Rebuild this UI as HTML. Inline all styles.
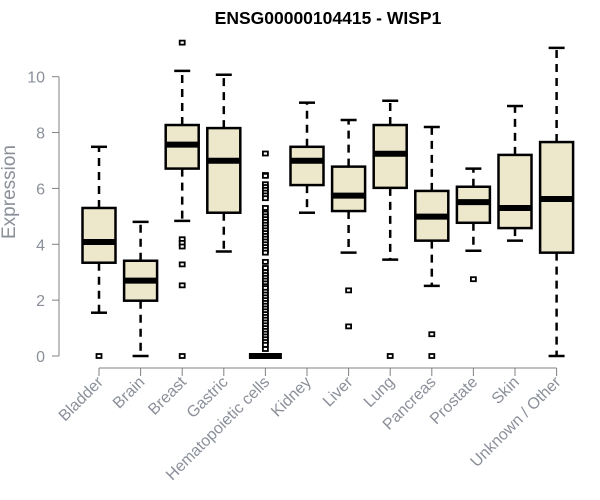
<!DOCTYPE html>
<html><head><meta charset="utf-8"><style>
html,body{margin:0;padding:0;background:#fff;width:600px;height:500px;overflow:hidden}
svg{display:block;font-family:"Liberation Sans",Arial,sans-serif}
</style></head><body>
<svg id="chart" width="600" height="500">
<text x="328" y="24" text-anchor="middle" font-weight="bold" font-size="17.5" fill="#000">ENSG00000104415 - WISP1</text>
<text transform="translate(15,192) rotate(-90)" text-anchor="middle" font-size="19" fill="#8a8f99">Expression</text>
<g id="plot"></g>
</svg>
<script>
const categories = ["Bladder","Brain","Breast","Gastric","Hematopoietic cells","Kidney","Liver","Lung","Pancreas","Prostate","Skin","Unknown / Other"];
const whiskerLow = [1.55,0,4.84,3.74,0,5.13,3.70,3.45,2.51,3.77,4.13,0];
const q1 = [3.34,1.98,6.71,5.13,0,6.12,5.19,6.02,4.13,4.77,4.58,3.70];
const medians = [4.08,2.70,7.57,6.99,0,6.99,5.74,7.24,4.99,5.51,5.30,5.62];
const q3 = [5.30,3.41,8.27,8.16,0,7.49,6.78,8.27,5.91,6.06,7.20,7.66];
const whiskerHigh = [7.49,4.80,10.21,10.07,0,9.07,8.45,9.14,8.20,6.71,8.95,11.03];
const outliers = [
 [0],
 [],
 [11.22,4.18,4.05,3.92,3.28,2.53,0],
 [],
 [7.25,6.48,6.45,6.15,6.05,5.95,5.85,5.75,5.65,5.3,5.1,5.0,4.9,4.8,4.7,4.6,4.5,4.4,4.3,4.2,4.1,4.0,3.9,3.8,3.7,3.37,3.15,3.0,2.9,2.8,2.7,2.6,2.5,2.43,2.3,2.2,2.1,2.0,1.9,1.8,1.7,1.6,1.5,1.4,1.3,1.2,1.1,1.0,0.9,0.8,0.7,0.6,0.5,0.4,0.25],
 [],
 [2.35,1.06],
 [0],
 [0.78,0],
 [2.75],
 [],
 []
];
const yTicks = [0,2,4,6,8,10];

const NS="http://www.w3.org/2000/svg";
const g=document.getElementById('plot');
function y(v){return 356 - v*27.93;}
function x(i){return 99 + i*41.6;}
function el(tag,attrs,parent){const e=document.createElementNS(NS,tag);for(const k in attrs)e.setAttribute(k,attrs[k]);(parent||g).appendChild(e);return e;}
const AX="#808080", LBL="#8a8f99";
let ya=el('line',{x1:59,x2:59,y1:y(0),y2:y(10),stroke:AX,'stroke-width':1});


yTicks.forEach(t=>{
  let tk=el('line',{x1:52,x2:59,y1:y(t),y2:y(t),stroke:AX,'stroke-width':1});
  
  
  let tl=el('text',{x:45,y:y(t)+6,'text-anchor':'end','font-size':16,fill:LBL});
  tl.textContent=t;
  
  
});
let xa=el('line',{x1:x(0),x2:x(categories.length-1),y1:368,y2:368,stroke:AX,'stroke-width':1});


categories.forEach((c,i)=>{
  let tk=el('line',{x1:x(i),x2:x(i),y1:368,y2:376,stroke:AX,'stroke-width':1});
  
  
  let tl=el('text',{transform:`translate(${x(i)+5},${383}) rotate(-45)`,'text-anchor':'end','font-size':16,fill:LBL});
  tl.textContent=c;
  
  
});
const hw=16.5;
categories.forEach((c,i)=>{
  const cx=x(i);
  const grp=el('g',{});
  
  
  el('line',{x1:cx,x2:cx,y1:y(q3[i]),y2:y(whiskerHigh[i]),stroke:'#000','stroke-width':2.5,'stroke-dasharray':'8,6'},grp);
  el('line',{x1:cx,x2:cx,y1:y(q1[i]),y2:y(whiskerLow[i]),stroke:'#000','stroke-width':2.5,'stroke-dasharray':'8,6'},grp);
  el('line',{x1:cx-8,x2:cx+8,y1:y(whiskerHigh[i]),y2:y(whiskerHigh[i]),stroke:'#000','stroke-width':2.5},grp);
  el('line',{x1:cx-8,x2:cx+8,y1:y(whiskerLow[i]),y2:y(whiskerLow[i]),stroke:'#000','stroke-width':2.5},grp);
  el('rect',{x:cx-hw,y:y(q3[i]),width:hw*2,height:Math.max(0,y(q1[i])-y(q3[i])),fill:'#ede7cc',stroke:'#000','stroke-width':2.5},grp);
  el('line',{x1:cx-hw,x2:cx+hw,y1:y(medians[i]),y2:y(medians[i]),stroke:'#000','stroke-width':6},grp);
  outliers[i].forEach(v=>{
    const o=el('rect',{x:cx-2.5,y:y(v)-2,width:5,height:4,fill:'#fff',stroke:'#000','stroke-width':1.8},grp);
    
    
  });
});
</script>
</body></html>
